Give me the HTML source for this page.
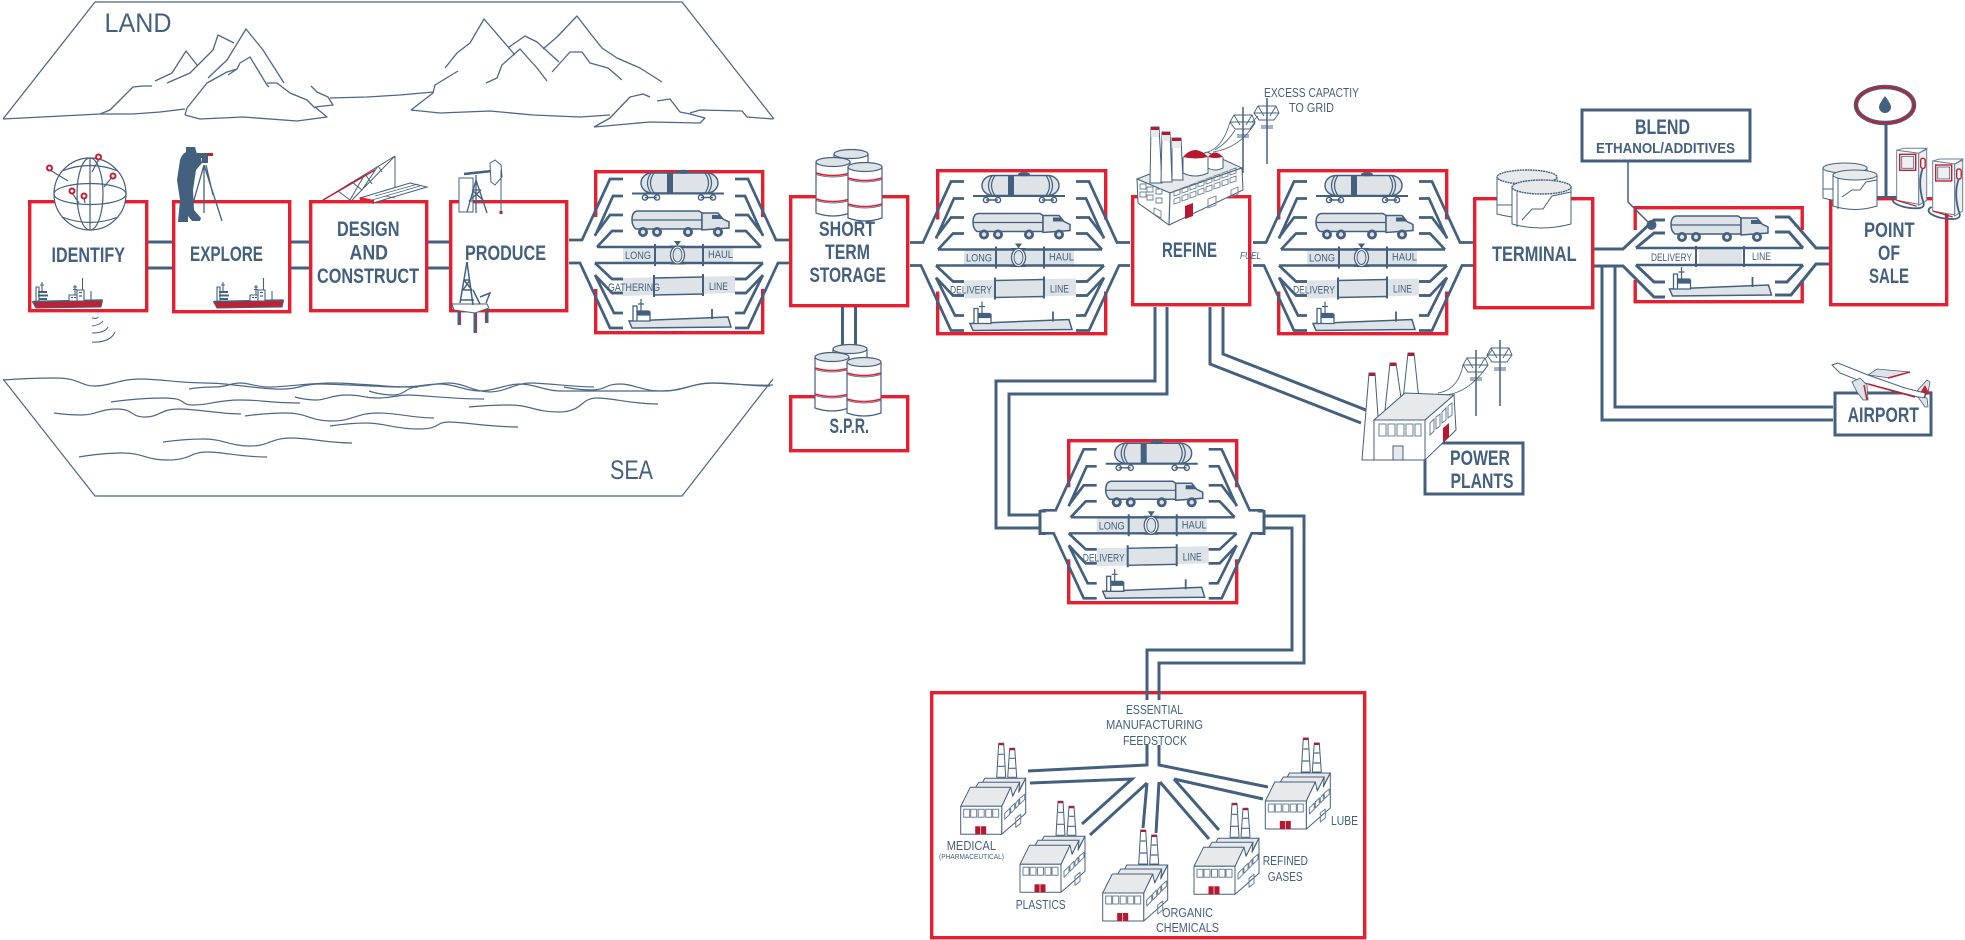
<!DOCTYPE html>
<html><head><meta charset="utf-8"><title>Oil supply chain</title>
<style>
html,body{margin:0;padding:0;background:#fff;width:1965px;height:940px;overflow:hidden}
svg{display:block}
text{font-family:"Liberation Sans",sans-serif;fill:#44607f}
.b{font-weight:700;font-size:21px}
.n{font-size:13px}
.s{font-size:11px}
.r{fill:none;stroke:#e41f30;stroke-width:3.4}
.k{fill:#fff;stroke:#44607f;stroke-width:3}
.l{fill:none;stroke:#44607f;stroke-width:3}
.m{fill:none;stroke:#4d6787;stroke-width:1.2}
.w{fill:#fff;stroke:#44607f;stroke-width:1}
.g{fill:#e8e9ea;stroke:#44607f;stroke-width:1}
</style></head><body>
<svg width="1965" height="940" viewBox="0 0 1965 940" xmlns="http://www.w3.org/2000/svg">
<defs>
<g id="half" fill="none" stroke="#44607f" stroke-width="2.7">
<path d="M-25,70H-12L16,9H29M29,26H19L1,66M29,45H16L1,65M29,61H18L3,77M1,93L18,109H29M29,123H18L1,105M29,143H20L1,105M29,158H16L-14,93H-25"/>
</g>
<g id="truck">
<path d="M38,50Q38,41 44,41H105L108,43V59H42Q38,56 38,50Z" fill="#dde3e6" stroke="#44607f" stroke-width="1.5"/>
<path d="M38,50H108" stroke="#44607f" stroke-width="1.2"/>
<path d="M108,43H124L129,49L135,52V58L108,60Z" fill="#dde3e6" stroke="#44607f" stroke-width="1.5"/>
<path d="M118,45H126L129,49H118Z" fill="#44607f"/>
<g fill="#44607f"><circle cx="49" cy="62" r="5"/><circle cx="63" cy="62" r="5"/><circle cx="94" cy="62" r="5"/><circle cx="124" cy="62" r="5"/></g>
<g fill="#dde3e6"><circle cx="49" cy="62" r="2.2"/><circle cx="63" cy="62" r="2.2"/><circle cx="94" cy="62" r="2.2"/><circle cx="124" cy="62" r="2.2"/></g>
</g>
<g id="ship">
<path d="M35,151L134,147L137,157L38,158Z" fill="#dde3e6" stroke="#44607f" stroke-width="1.5"/>
<path d="M39,151V136H43V151ZM43,151V142H56V151Z" fill="#fff" stroke="#44607f" stroke-width="1.3"/>
<path d="M44,141H55V145H44ZM47,129V141M44,134H50" fill="#44607f" stroke="#44607f" stroke-width="1.2"/>
<path d="M118,139V149" stroke="#44607f" stroke-width="1.8"/>
</g>
<g id="tx">
<rect x="-3" y="47" width="8" height="72" fill="#fff"/>
<rect x="165" y="47" width="8" height="72" fill="#fff"/>
<use href="#half"/>
<use href="#half" transform="matrix(-1 0 0 1 170 0)"/>
<rect x="47" y="3" width="77" height="20" rx="11" fill="#dde3e6" stroke="#44607f" stroke-width="1.4"/>
<path d="M57,3Q50,13 57,23M60,3Q53,13 60,23M114,3Q121,13 114,23M111,3Q118,13 111,23" fill="none" stroke="#44607f" stroke-width="1.2"/>
<rect x="73" y="3" width="6" height="20" fill="#44607f"/>
<ellipse cx="89" cy="1.8" rx="6" ry="2" fill="#44607f"/>
<path d="M38,23.5H130" stroke="#44607f" stroke-width="2"/>
<g fill="none" stroke="#44607f" stroke-width="1.4"><circle cx="51" cy="27.5" r="2.6"/><circle cx="63" cy="27.5" r="2.6"/><circle cx="107" cy="27.5" r="2.6"/><circle cx="119" cy="27.5" r="2.6"/><path d="M51,27.5H63M107,27.5H119"/></g>
<use href="#truck"/>
<rect x="29" y="77" width="110" height="16" fill="#dde3e6"/>
<path d="M3,77H167M1,93H169" stroke="#44607f" stroke-width="2.4"/>
<path d="M61,74V96M109,74V96" stroke="#44607f" stroke-width="2"/>
<path d="M76,76H91M76,94H91" stroke="#44607f" stroke-width="1"/>
<ellipse cx="83.5" cy="85" rx="7" ry="9" fill="#fff" stroke="#44607f" stroke-width="1.3"/>
<ellipse cx="83.5" cy="85" rx="4.5" ry="7" fill="#dde3e6" stroke="#44607f" stroke-width="1"/>
<path d="M80,71H87L83.5,76Z" fill="#44607f"/>
<path d="M29,108L141,106V123L29,126Z" fill="#dde3e6"/>
<path d="M60,108L109,107M60,125L109,124" stroke="#44607f" stroke-width="1.4"/>
<path d="M60,105V127M109,104V126" stroke="#44607f" stroke-width="2"/>
<path d="M18,109H29M18,123H29M141,109H152M141,123H152" stroke="#44607f" stroke-width="2.6"/>
<use href="#ship"/>
</g>
<g id="fac" stroke-linejoin="round">
<path d="M36,-57L38,-91H43L45,-57Z" class="w"/><path d="M47,-57L49,-86H54L56,-57Z" class="w"/>
<path d="M38,-91H43V-89H38ZM49,-86H54V-84H49Z" fill="#b5182f"/>
<path d="M38,-80H43M37,-68H44M49,-76H54M48,-66H55" class="m" stroke-width=".7"/>
<path d="M22,-52L24,-56H65L59,-45Z" class="g"/>
<path d="M15,-47L18,-52H59L53,-40Z" class="g"/>
<path d="M41,0L65,-21V-56L58,-42L59,-52L52,-38L50,-47L41,-28Z" class="w"/>
<path d="M0,-28L9.5,-47H50L41,-28Z" class="g"/>
<rect x="0" y="-28" width="41" height="28" class="w"/>
<g fill="none" stroke="#6a8098" stroke-width="1"><rect x="3" y="-25" width="6" height="8"/><rect x="10" y="-25" width="6" height="8"/><rect x="17.5" y="-25" width="6" height="8"/><rect x="25" y="-25" width="6" height="8"/><rect x="32" y="-25" width="6" height="8"/><path d="M44,-21V-15L49,-20V-26ZM50,-27V-21L54,-25V-31ZM55,-31V-26L58,-29V-35ZM59,-36V-30L64,-35V-40ZM55,-16V-7L60,-11V-20Z"/></g>
<rect x="14.5" y="-8" width="11" height="8" fill="#b5182f"/><path d="M20,-8V0" stroke="#fff" stroke-width=".7"/>
</g>
<g id="barrel">
<path d="M0,4V55Q17,61 34,55V4" fill="#fff" stroke="#44607f" stroke-width="1.2"/>
<ellipse cx="17" cy="4" rx="17" ry="4.5" fill="#dde3e6" stroke="#44607f" stroke-width="1.2"/>
<path d="M0,15Q17,20 34,15M0,41Q17,46 34,41" fill="none" stroke="#e41f30" stroke-width="1.6"/>
<path d="M0,16.5Q17,21.5 34,16.5M0,42.5Q17,47.5 34,42.5" fill="none" stroke="#44607f" stroke-width=".8"/>
</g>
<g id="redship">
<path d="M.5,32L70.5,30.500L69,37L4,38Z" fill="#c21f30" stroke="#44607f" stroke-width="1"/>
<path d="M.5,31.500L70.5,30" stroke="#44607f" stroke-width="1.400"/>
<path d="M4,31V17H7V31ZM37,31V25H45V31ZM45,31V20H52V31Z" fill="#fff" stroke="#44607f" stroke-width="1.100"/>
<path d="M6,21H15V23H6ZM6,24.500H16V26.500H6ZM7,28H15V30H7Z" fill="#44607f"/>
<path d="M10,12V21M8,15H12M43,15V25M41,17H45M41,19.500H45M50.500,8V20M59,21V31" stroke="#44607f" stroke-width="1.100"/>
<path d="M39,27.500H41M42,27.500H44M47,22.500H50M47,26H50" stroke="#44607f" stroke-width="1.200"/>
</g>
<g id="pylon" fill="none" stroke="#44607f" stroke-width="1">
<path d="M0,0V66" stroke-width="1.500"/><path d="M-9,8H9L12,15H-13ZM-13,15L-8,22H7L12,15M-9,8L-3,18M9,8L3,18" stroke-width=".9"/><path d="M-6,28H6M-6,30H6" stroke-width=".9"/>
</g>
<g id="pump">
<path d="M0,2L7,0H30L22,5Z" fill="#fff" stroke="#6a8098" stroke-width="1"/>
<path d="M0,2L22,5V56L0,52Z" fill="#fff" stroke="#6a8098" stroke-width="1"/>
<path d="M22,5L30,1V52L22,57Z" fill="#eceeef" stroke="#6a8098" stroke-width="1"/>
<rect x="3" y="6" width="16" height="16" fill="#fff" stroke="#c21f30" stroke-width="1.400"/>
<rect x="5" y="8" width="12" height="12" fill="#eceeef" stroke="#44607f" stroke-width=".8"/>
<rect x="24" y="10" width="4.500" height="10" rx="2" fill="#fff" stroke="#c21f30" stroke-width="1.400"/>
<path d="M26,20Q21,34 26,52Q30,60 20,60Q5,60 -3,54Q-6,50 -1,48" stroke="#44607f" fill="none" stroke-width="1.800"/>
<path d="M0,52L20,58" stroke="#c21f30" stroke-width="1.200"/>
</g>
</defs>

<!-- LAND -->
<g fill="none" stroke="#4d6787" stroke-width="1.300" stroke-linejoin="round">
<path d="M3,119L95,2H682L774,119"/>
<path d="M3,119L100,114L133,114L160,112L185,109"/>
<path d="M100,114L110,110L120,100L133,87L143,86L152,86"/>
<path d="M185,115L187,108L207,83L227,72L237,69L240,63L250,57L267,85L269,87"/>
<path d="M228,75L237,69"/>
<path d="M267,83L277,83L290,93L307,100L315,108"/>
<path d="M185,115L200,119L243,117L297,121L327,117L315,107"/>
<path d="M208,78L227,60L246,29L263,50L284,83"/>
<path d="M167,83L190,73L213,50L218,35L234,43"/>
<path d="M155,81L172,73L186,51L197,65"/>
<path d="M311,86L317,92L328,97L333,105L315,107"/>
<path d="M330,98L367,97L400,95L433,92"/>
<path d="M411,110L433,93L435,85L458,71"/>
<path d="M445,68L457,53L470,43L484,19L515,55"/>
<path d="M509,47L525,36L537,42L559,62"/>
<path d="M486,83L497,78L502,65L520,49L537,68L547,81"/>
<path d="M543,49L557,37L577,16L590,33L602,48L617,58L640,68L662,82"/>
<path d="M552,72L570,52H582L590,63L608,68L622,80"/>
<path d="M411,110L440,113L490,111L533,115L580,117L610,115"/>
<path d="M594,127L610,118L630,97L643,94L650,97"/>
<path d="M657,101L670,99L680,112L690,114L705,118L700,123L650,122L594,127"/>
<path d="M690,113L700,110L742,111L747,117L773,119"/>
</g>
<text x="104.500" y="32" style="font-size:27px" textLength="67" lengthAdjust="spacingAndGlyphs">LAND</text>
<!-- SEA -->
<g fill="none" stroke="#4d6787" stroke-width="1.200">
<path d="M3,379L95,496H682L773,379"/>
<path d="M3,380S30,378 55,378S80,386 95,386S120,379 140,379S180,383 205,383S250,388 275,389S300,384 320,384S380,387 400,387S425,384 440,384S465,391 480,391S505,384 520,384S545,391 560,391S610,391 625,391S650,391 665,391S695,383 710,383S750,386 773,385"/>
<path d="M189,389S200,387 214,387S230,383 240,383S255,387 270,387S310,383 332,383S390,387 408,387S435,383 449,383S475,392 490,392S515,383 530,383S575,387 594,387"/>
<path d="M111,402S137,398 163,398S178,405 194,405S217,400 240,400S270,403 300,403"/>
<path d="M54,413S68,415 82,415S100,409 117,409S130,417 145,417S160,409 179,409S220,414 241,414"/>
<path d="M245,416S265,413 286,413S310,421 332,421S355,413 378,413S410,418 434,418"/>
<path d="M295,397S305,400 316,400S330,395 347,395S362,398 378,398S395,395 408,395S450,399 484,399"/>
<path d="M369,391S380,395 393,395S405,387 418,387"/>
<path d="M469,407S490,405 510,405S535,412 559,412S580,398 597,398S630,404 658,404"/>
<path d="M330,426S350,423 367,423S395,429 418,429S435,422 449,422S490,427 518,427"/>
<path d="M163,442S185,439 204,439S230,446 250,446S270,438 291,438S325,443 352,443"/>
<path d="M79,457S100,453 122,453S145,460 168,460S190,452 207,452S240,457 267,457"/>
<path d="M564,387S578,390 592,390S605,384 620,384S640,391 663,391S690,383 714,383S745,386 770,386"/>
</g>
<text x="610" y="479" style="font-size:27px" textLength="43" lengthAdjust="spacingAndGlyphs">SEA</text>

<g class="l"><path d="M148,242H172M148,268H172M291,242H309M291,268H309M428,242H449M428,268H449"/></g>

<!-- boxes -->
<rect class="r" x="29.700" y="201.700" width="117" height="109"/>
<rect class="r" x="173.700" y="201.700" width="116" height="110"/>
<rect class="r" x="310.700" y="201.700" width="116" height="109"/>
<rect class="r" x="450.700" y="201.700" width="116" height="109"/>
<rect class="r" x="595.700" y="171.700" width="167" height="161"/>
<rect class="r" x="790.700" y="196.700" width="117" height="109"/>
<rect class="r" x="790.700" y="396.700" width="117" height="54"/>
<rect class="r" x="937.700" y="170.700" width="168" height="163"/>
<rect class="r" x="1132.700" y="196.700" width="117" height="108"/>
<rect class="r" x="1278.700" y="170.700" width="168" height="163"/>
<rect class="r" x="1474.700" y="198.700" width="118" height="109"/>
<rect class="r" x="1635.200" y="207.700" width="167" height="94"/>
<rect class="r" x="1830.700" y="198.700" width="116" height="106"/>
<rect class="r" x="1068.700" y="440.700" width="168" height="162"/>
<rect class="r" x="931.700" y="692.700" width="433" height="245"/>
<rect x="1633" y="230" width="5" height="50" fill="#fff"/><rect x="1799" y="230" width="7" height="50" fill="#fff"/>
<rect class="k" x="1582" y="110" width="168" height="51"/>
<rect class="k" x="1835" y="393" width="96" height="42"/>
<rect class="k" x="1425" y="443" width="98" height="51"/>

<!-- connectors -->
<g class="l">
<path d="M842.500,307V350M855.500,307V350"/>
<path d="M1155,307V381H996V528H1040M1167,307V394H1009V515H1040"/>
<path d="M1264,516H1304V663H1159V700M1264,528H1292V650H1147V700"/>
<path d="M1210,307V364L1361,423M1223,307V354L1366,410"/>
<path d="M1594,249H1623L1654,220H1665M1665,233H1654L1636,248M1594,266H1623L1654,297H1665M1636,265L1654,282H1665"/>
<path d="M1775,217H1789L1816,248H1829M1775,232H1789L1803,248M1829,264H1816L1791,295H1775M1803,265L1787,282H1775"/>
<path d="M1602,266V420H1833M1615,266V407H1833"/>
<path d="M1147,745V765L1028,771M1159,745V765L1268,787M1030,783L1132,779L1082,824M1147,783L1090,835M1147,783L1143,828M1159,782L1156,833M1160,782L1209,839M1174,779L1219,830M1174,779L1263,799"/>
</g>
<path d="M1628,162V202L1649,223" fill="none" stroke="#44607f" stroke-width="1.500"/>
<circle cx="1651.500" cy="225" r="5" fill="#44607f"/>

<!-- transport -->
<g transform="translate(594 170)"><use href="#tx"/>
<text class="s" x="31" y="89" textLength="26" lengthAdjust="spacingAndGlyphs">LONG</text><text class="s" x="114" y="88" textLength="25" lengthAdjust="spacingAndGlyphs">HAUL</text>
<text class="s" x="14" y="121" textLength="52" lengthAdjust="spacingAndGlyphs">GATHERING</text><text class="s" x="115" y="120" textLength="19" lengthAdjust="spacingAndGlyphs">LINE</text></g>
<g transform="translate(935 172.500)"><use href="#tx"/>
<text class="s" x="31" y="89" textLength="26" lengthAdjust="spacingAndGlyphs">LONG</text><text class="s" x="114" y="88" textLength="25" lengthAdjust="spacingAndGlyphs">HAUL</text>
<text class="s" x="15" y="121" textLength="42" lengthAdjust="spacingAndGlyphs">DELIVERY</text><text class="s" x="115" y="120" textLength="19" lengthAdjust="spacingAndGlyphs">LINE</text></g>
<g transform="translate(1278 172.500)"><use href="#tx"/>
<text class="s" x="31" y="89" textLength="26" lengthAdjust="spacingAndGlyphs">LONG</text><text class="s" x="114" y="88" textLength="25" lengthAdjust="spacingAndGlyphs">HAUL</text>
<text class="s" x="15" y="121" textLength="42" lengthAdjust="spacingAndGlyphs">DELIVERY</text><text class="s" x="115" y="120" textLength="19" lengthAdjust="spacingAndGlyphs">LINE</text></g>
<g transform="translate(1067.700 440.300)"><use href="#tx"/>
<text class="s" x="31" y="89" textLength="26" lengthAdjust="spacingAndGlyphs">LONG</text><text class="s" x="114" y="88" textLength="25" lengthAdjust="spacingAndGlyphs">HAUL</text>
<text class="s" x="15" y="121" textLength="42" lengthAdjust="spacingAndGlyphs">DELIVERY</text><text class="s" x="115" y="120" textLength="19" lengthAdjust="spacingAndGlyphs">LINE</text></g>
<path d="M1040,510V535M1040,511H1046M1040,533.500H1046M1264,510V535M1258,511H1264M1258,533.500H1264" fill="none" stroke="#44607f" stroke-width="3"/>
<!-- small transport -->
<g transform="translate(1633 175)"><use href="#truck"/></g>
<rect x="1699" y="248" width="43" height="17" fill="#dde3e6"/>
<path d="M1636,248H1803M1636,265H1803" stroke="#44607f" stroke-width="2.400"/>
<path d="M1696,246V267M1744,246V267" stroke="#44607f" stroke-width="2"/>
<g transform="translate(1634.500 138)"><use href="#ship"/></g>
<text class="s" x="1651" y="261" textLength="41" lengthAdjust="spacingAndGlyphs">DELIVERY</text>
<text class="s" x="1752" y="260" textLength="19" lengthAdjust="spacingAndGlyphs">LINE</text>

<!-- globe -->
<g fill="#fff" stroke="#44607f" stroke-width="1.200">
<circle cx="90" cy="194" r="36"/>
<g fill="none"><ellipse cx="90" cy="194" rx="13" ry="36"/><path d="M90,158V230"/><ellipse cx="90" cy="194" rx="36" ry="10.500"/><path d="M62,171Q90,160 118,171M62,217Q90,228 118,217"/>
<path d="M50,170L68,181M99,159L92,172M113,176L104,187M72,193L79,203M84,198L85,203"/></g>
</g>
<g fill="#fff" stroke="#c21f30" stroke-width="2"><circle cx="49.500" cy="168" r="2.500"/><circle cx="98.500" cy="157" r="2.500"/><circle cx="113" cy="176" r="2.500"/><circle cx="72" cy="191" r="2.500"/><circle cx="84" cy="196" r="2.500"/></g>
<use href="#redship" x="32" y="270"/>
<use href="#redship" x="213" y="270"/>
<path d="M92,318Q97,319 98,317M92,326Q100,325 103,321M92,333Q105,333 108,327M92,342Q110,343 115,332" fill="none" stroke="#44607f" stroke-width="1"/>
<!-- surveyor -->
<path d="M186,147H195L197,154H203V158H201L202,163L196,170L193,190L194,210L201,218L200,221H192L188,216L188,222H178L180,200L177,180L180,160Q182,154 186,152Z" fill="#44607f"/>
<path d="M204,165L192,207M204,165V213M204,165L222,221M206,165L213,195" fill="none" stroke="#44607f" stroke-width="1.300"/>
<rect x="197" y="153" width="16" height="3" fill="#44607f"/><rect x="207" y="153" width="6" height="3" fill="#c21f30"/><rect x="202" y="156" width="6" height="7" fill="#44607f"/>
<!-- crane -->
<path d="M323,200L395,156L352,200Z" fill="#fff"/>
<path d="M323,200L395,156L352,200M338,191L350,200M352,182L362,190M365,174L372,184M378,166L382,172M338,191L352,182M350,200L365,174M362,190L378,166M395,156V187" fill="none" stroke="#44607f" stroke-width="1"/>
<path d="M323,200L375,170" stroke="#c21f30" stroke-width="1.400"/>
<path d="M360,198L410,183L427,187L373,203Z" fill="#fff" stroke="#44607f" stroke-width="1"/>
<path d="M360,197L374,200V204L360,200Z" fill="#e41f30"/>
<path d="M372,200L420,186M375,196L418,184M385,196L395,198" stroke="#44607f" stroke-width=".7"/>
<!-- pump jack -->
<rect x="459" y="178" width="14" height="34" fill="#fff" stroke="#44607f" stroke-width="1"/>
<path d="M464,174L492,171" stroke="#44607f" stroke-width="2.500"/>
<path d="M490,163L495,160L501,165L502,177L495,185L491,182Z" fill="#fff" stroke="#44607f" stroke-width="1"/>
<path d="M476,175V180L467,212M476,180L487,213M472,190H481M469,201H484M476,180V213M472,190L484,201M481,190L469,201" fill="none" stroke="#44607f" stroke-width="1.300"/>
<path d="M501,170V212" stroke="#44607f" stroke-width="1"/><rect x="499.500" y="211" width="3" height="3" fill="#c21f30"/>
<!-- rig -->
<path d="M452,304H487L489,308L475,313L454,310Z" fill="#fff" stroke="#44607f" stroke-width="1"/>
<path d="M467,262L460,303M467,262L473,305M464,280H470M463,290H472M461,300H474M464,280L472,290M470,280L463,290M473,290L480,304M480,297L490,293L486,303" fill="none" stroke="#44607f" stroke-width="1.500"/>
<path d="M459,312V325M475,313V333M487,310V323" stroke="#44607f" stroke-width="3"/>
<path d="M460.500,312V325M476.500,313V333M485.500,310V323" stroke="#e41f30" stroke-width="1"/>
<!-- barrels -->
<use href="#barrel" x="834" y="150"/><use href="#barrel" x="816" y="158"/><use href="#barrel" x="848" y="163"/>
<use href="#barrel" x="833" y="345"/><use href="#barrel" x="815" y="353"/><use href="#barrel" x="847" y="358"/>
<!-- refinery -->
<path d="M1137,179L1207,152L1242,168L1170,193Z" class="g"/>
<path d="M1137,179L1170,193L1242,168L1243,190L1169,225L1138,203Z" class="w"/>
<path d="M1170,193L1169,225" class="m"/>
<path d="M1150,183L1151,127H1159L1162,183Z" class="w"/><path d="M1161,182L1162,132H1170L1172,182Z" class="w"/><path d="M1172,180L1172,138H1181L1183,180Z" class="w"/>
<path d="M1151,130H1159V137H1151ZM1162,135H1170V141H1162ZM1172,141H1181V148H1172Z" fill="#e8e9ea"/>
<path d="M1151,127H1159V130H1151ZM1162,132H1170V135H1162ZM1172,138H1181V141H1172Z" fill="#b5182f"/>
<path d="M1183,157V173Q1195,179 1208,173V157" class="w"/><path d="M1183,157Q1195,143 1208,157Q1195,160 1183,157Z" fill="#b5182f"/>
<path d="M1208,157V168Q1215,172 1223,168V157" class="w"/><path d="M1208,157Q1215,148 1223,157Q1215,159 1208,157Z" fill="#b5182f"/>
<g fill="none" stroke="#6a8098" stroke-width=".9"><path d="M1140,184H1146V189H1140ZM1147,187H1153V192H1147ZM1156,189H1162V194H1156ZM1140,192H1146V197H1140ZM1147,195H1153V200H1147ZM1156,198H1162V203H1156ZM1174,191L1180,189V194L1174,196ZM1182,188L1188,186V191L1182,193ZM1190,185L1196,183V188L1190,190ZM1198,182L1204,180V185L1198,187ZM1206,179L1212,177V182L1206,184ZM1214,176L1220,174V179L1214,181ZM1222,173L1228,171V176L1222,178ZM1230,170L1236,168V173L1230,175ZM1174,199L1180,197V202L1174,204ZM1182,196L1188,194V199L1182,201ZM1190,193L1196,191V196L1190,198ZM1198,190L1204,188V193L1198,195ZM1206,187L1212,185V190L1206,192ZM1214,184L1220,182V187L1214,189ZM1222,181L1228,179V184L1222,186ZM1230,178L1236,176V181L1230,183ZM1154,208L1161,211V218L1154,214ZM1208,199L1216,196V205L1208,208ZM1231,190L1238,187V194L1231,197Z"/></g>
<path d="M1185,206L1193,203V216L1185,219Z" fill="#b5182f"/>
<use href="#pylon" x="1243" y="107"/><use href="#pylon" x="1267" y="98"/>
<path d="M1208,152Q1223,147 1230,122M1213,152Q1240,148 1255,123M1215,150Q1228,142 1235,130M1252,122L1258,116" fill="none" stroke="#44607f" stroke-width=".8"/>
<text class="n" x="1264" y="97" textLength="95" lengthAdjust="spacingAndGlyphs">EXCESS CAPACTIY</text>
<text class="n" x="1289" y="112" textLength="45" lengthAdjust="spacingAndGlyphs">TO GRID</text>
<text x="1240" y="259" font-size="10" font-style="italic" textLength="21" lengthAdjust="spacingAndGlyphs">FUEL</text>
<!-- terminal tanks -->
<g class="w">
<path d="M1497,177V214Q1527,222 1557,214V177" fill="#fff"/><ellipse cx="1527" cy="177" rx="30" ry="7" fill="#e8e9ea" stroke-dasharray="2 .6" stroke-width="1.400"/>
<path d="M1512,187V224Q1541,232 1571,224V187" fill="#fff"/><ellipse cx="1541.500" cy="187" rx="29.500" ry="7" fill="#e8e9ea" stroke-dasharray="2 .6" stroke-width="1.400"/>
<path d="M1517,190V227M1522,220L1532,209H1543L1552,196L1571,192M1497,205H1512" fill="none"/>
</g>
<!-- POS -->
<path d="M1886,123V197" stroke="#44607f" stroke-width="3"/>
<ellipse cx="1885" cy="105" rx="29" ry="18" fill="#fff" stroke="#44607f" stroke-width="4.500"/>
<ellipse cx="1885" cy="105" rx="29" ry="18" fill="none" stroke="#c21f30" stroke-width="2"/>
<path d="M1885,96Q1891,104 1891,107A6,6 0 0 1 1879,107Q1879,104 1885,96Z" fill="#44607f"/>
<path d="M1877,197H1900" stroke="#44607f" stroke-width="2"/>
<g class="w">
<path d="M1823,168V198Q1845,204 1867,198V168" fill="#fff"/><ellipse cx="1845" cy="168" rx="22" ry="5" fill="#e8e9ea"/>
<path d="M1833,175V206Q1855,213 1877,206V175" fill="#fff"/><ellipse cx="1855" cy="175" rx="22" ry="5" fill="#e8e9ea"/>
<path d="M1838,178V209M1842,197L1852,190H1860L1866,182L1877,180M1823,189H1833" fill="none"/>
</g>
<use href="#pump" x="1896.700" y="148.300"/><use href="#pump" x="1932.700" y="159"/>
<!-- power plant -->
<path d="M1362,460L1369,373H1375L1381,460Z" class="w"/>
<path d="M1385,410L1390,363H1396L1402,405Z" class="w"/>
<path d="M1403,400L1408,353H1414L1419,400Z" class="w"/>
<path d="M1369,373H1375V376H1369ZM1390,363H1396V366H1390ZM1408,353H1414V356H1408Z" fill="#b5182f"/>
<path d="M1374,420L1405,393L1454,395L1425,420Z" class="g"/>
<path d="M1425,420L1454,395L1456,430L1425,460Z" class="w"/>
<rect x="1374" y="420" width="51" height="40" class="w"/>
<g fill="none" stroke="#6a8098"><path d="M1379,424H1386V436H1379ZM1388,424H1395V436H1388ZM1397,424H1404V436H1397ZM1406,424H1413V436H1406ZM1415,424H1421V436H1415ZM1430,423L1434,419V431L1430,435ZM1436,417L1440,414V426L1436,429ZM1442,412L1446,408V420L1442,423ZM1448,406L1452,403V415L1448,418Z"/></g>
<rect x="1393" y="446" width="10" height="14" class="g"/>
<path d="M1443,428L1449,423V437L1443,442Z" fill="#b5182f"/>
<use href="#pylon" x="1476" y="350"/><use href="#pylon" x="1500" y="340"/>
<path d="M1438,393Q1458,390 1463,365M1446,395Q1470,392 1488,365M1486,358L1492,350" fill="none" stroke="#44607f" stroke-width=".8"/>
<!-- plane -->
<path d="M1868,375L1877,369L1910,372L1890,378Z" fill="#dde3e6" stroke="#44607f" stroke-width=".8"/>
<path d="M1888,378L1910,372" stroke="#c21f30" stroke-width="1.500"/>
<path d="M1915,393L1927,380L1930,382L1928,393Z" fill="#dde3e6" stroke="#44607f" stroke-width=".8"/>
<path d="M1920,393L1925,385L1929,393Z" fill="#c21f30"/>
<path d="M1832,365L1838,363L1868,375L1905,388L1925,393L1925,398L1918,397L1865,383L1840,373Z" fill="#fff" stroke="#44607f" stroke-width="1"/>
<path d="M1852,382L1860,378L1867,385L1868,400L1863,400L1857,392Z" fill="#dde3e6" stroke="#44607f" stroke-width=".8"/>
<path d="M1864,385L1867,400" stroke="#c21f30" stroke-width="1.500"/>
<path d="M1868,384L1915,397" stroke="#c21f30" stroke-width="1.500"/>
<path d="M1918,397L1925,407L1928,407L1927,398Z" fill="#dde3e6" stroke="#44607f" stroke-width=".8"/>
<path d="M1924,397L1928,392L1932,392" fill="none" stroke="#c21f30" stroke-width="1.200"/>
<!-- factories -->
<use href="#fac" x="960.700" y="834.300"/><use href="#fac" x="1020" y="892.300"/><use href="#fac" x="1102.700" y="921"/><use href="#fac" x="1194" y="894.300"/><use href="#fac" x="1265.300" y="829"/>

<!-- labels -->
<text class="b" x="51.500" y="262" textLength="73.500" lengthAdjust="spacingAndGlyphs">IDENTIFY</text>
<text class="b" x="190" y="261" textLength="73" lengthAdjust="spacingAndGlyphs">EXPLORE</text>
<text class="b" x="337" y="236" textLength="62.500" lengthAdjust="spacingAndGlyphs">DESIGN</text>
<text class="b" x="349.500" y="259.700" textLength="38.500" lengthAdjust="spacingAndGlyphs">AND</text>
<text class="b" x="317" y="283" textLength="102" lengthAdjust="spacingAndGlyphs">CONSTRUCT</text>
<text class="b" x="465" y="260" textLength="81" lengthAdjust="spacingAndGlyphs">PRODUCE</text>
<text class="b" x="819" y="236" textLength="56" lengthAdjust="spacingAndGlyphs">SHORT</text>
<text class="b" x="825" y="259" textLength="45" lengthAdjust="spacingAndGlyphs">TERM</text>
<text class="b" x="809.500" y="282" textLength="76.500" lengthAdjust="spacingAndGlyphs">STORAGE</text>
<text class="b" x="829.500" y="433" textLength="39.500" lengthAdjust="spacingAndGlyphs">S.P.R.</text>
<text class="b" x="1162" y="257" textLength="55" lengthAdjust="spacingAndGlyphs">REFINE</text>
<text class="b" x="1492" y="261" textLength="84.600" lengthAdjust="spacingAndGlyphs">TERMINAL</text>
<text class="b" x="1864" y="237" textLength="50.600" lengthAdjust="spacingAndGlyphs">POINT</text>
<text class="b" x="1878" y="260" textLength="22" lengthAdjust="spacingAndGlyphs">OF</text>
<text class="b" x="1869" y="283" textLength="40" lengthAdjust="spacingAndGlyphs">SALE</text>
<text class="b" x="1635" y="134" textLength="55" lengthAdjust="spacingAndGlyphs">BLEND</text>
<text class="b" x="1596" y="153" style="font-size:15px" textLength="139" lengthAdjust="spacingAndGlyphs">ETHANOL/ADDITIVES</text>
<text class="b" x="1847.600" y="422" textLength="71.400" lengthAdjust="spacingAndGlyphs">AIRPORT</text>
<text class="b" x="1450" y="465" textLength="60" lengthAdjust="spacingAndGlyphs">POWER</text>
<text class="b" x="1450.500" y="488" textLength="63" lengthAdjust="spacingAndGlyphs">PLANTS</text>
<text class="n" x="1126" y="714" textLength="57" lengthAdjust="spacingAndGlyphs">ESSENTIAL</text>
<text class="n" x="1106" y="729" textLength="97" lengthAdjust="spacingAndGlyphs">MANUFACTURING</text>
<text class="n" x="1123" y="745" textLength="64" lengthAdjust="spacingAndGlyphs">FEEDSTOCK</text>
<text class="n" x="946.700" y="850" textLength="49.300" lengthAdjust="spacingAndGlyphs">MEDICAL</text>
<text x="939" y="859" font-size="7" textLength="65" lengthAdjust="spacingAndGlyphs">(PHARMACEUTICAL)</text>
<text class="n" x="1015.700" y="909" textLength="50" lengthAdjust="spacingAndGlyphs">PLASTICS</text>
<text class="n" x="1162" y="917" textLength="51" lengthAdjust="spacingAndGlyphs">ORGANIC</text>
<text class="n" x="1156" y="932" textLength="63" lengthAdjust="spacingAndGlyphs">CHEMICALS</text>
<text class="n" x="1262.700" y="865" textLength="45.300" lengthAdjust="spacingAndGlyphs">REFINED</text>
<text class="n" x="1267.700" y="881" textLength="35" lengthAdjust="spacingAndGlyphs">GASES</text>
<text class="n" x="1331" y="825" textLength="27" lengthAdjust="spacingAndGlyphs">LUBE</text>
</svg>
</body></html>
